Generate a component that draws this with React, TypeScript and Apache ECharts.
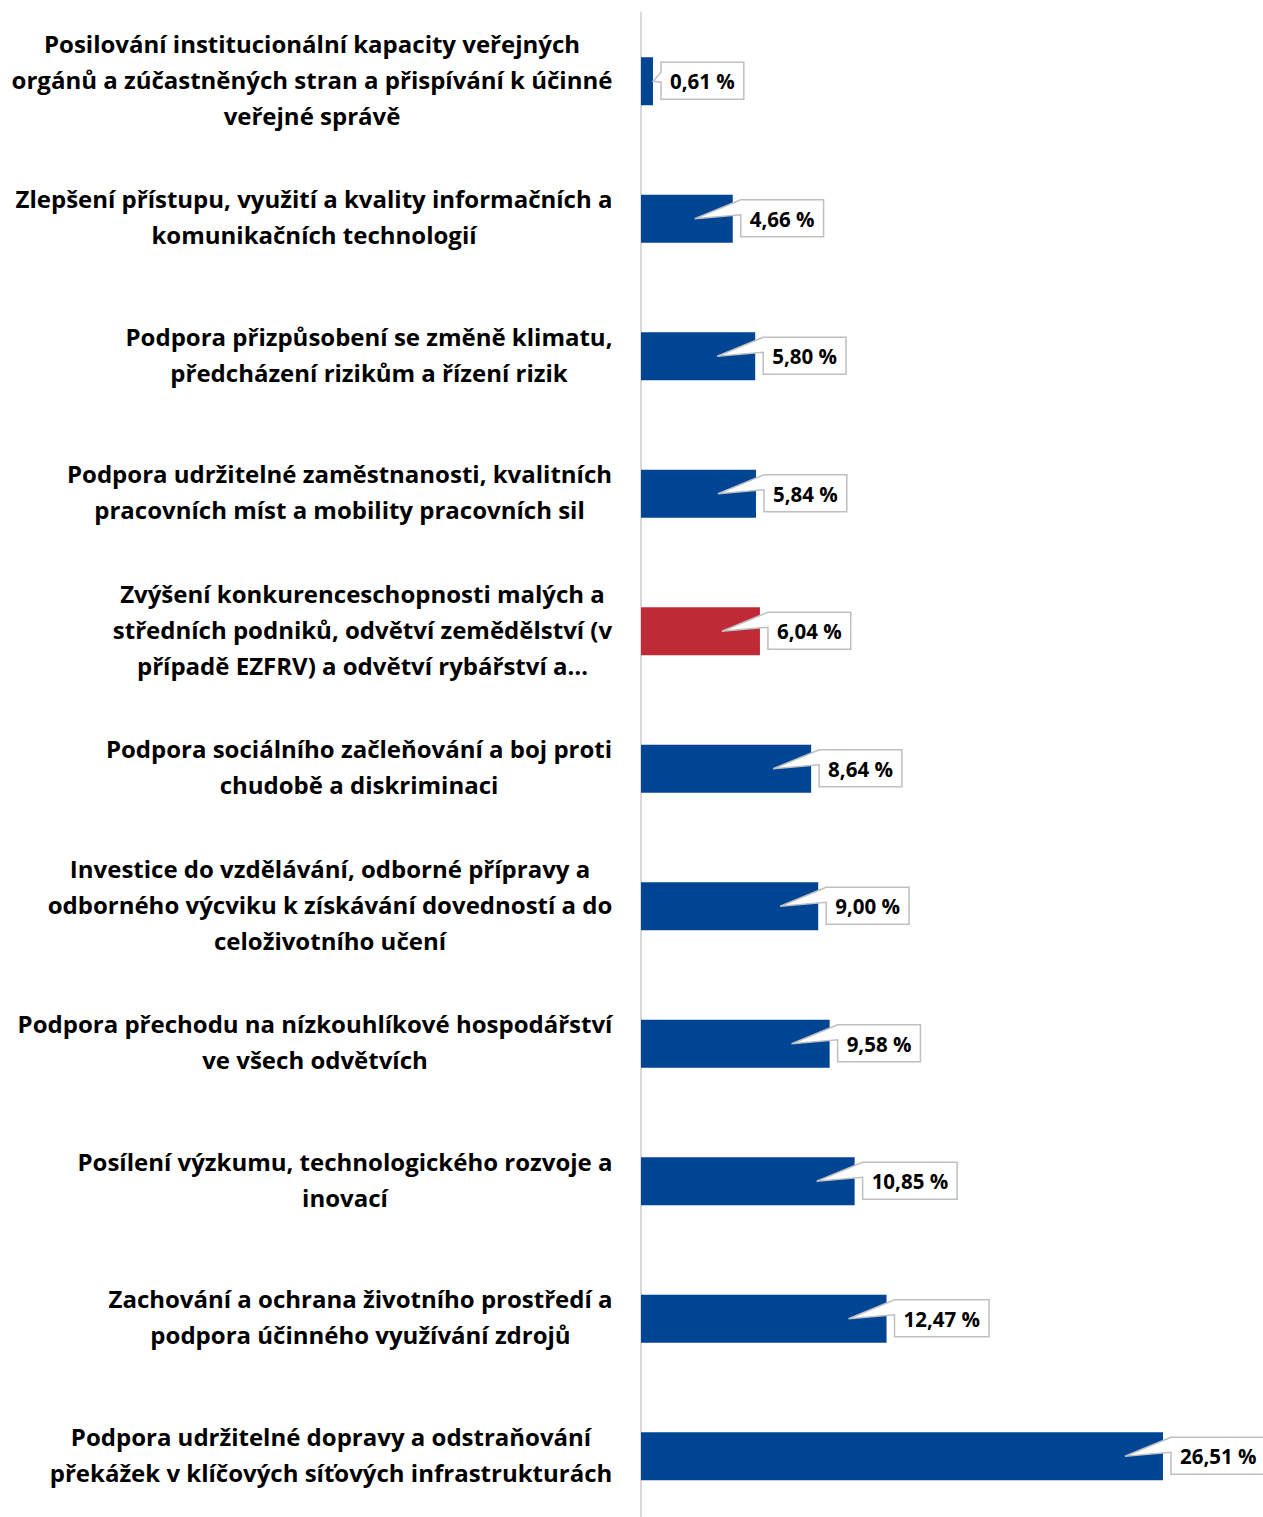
import React, { useEffect, useRef } from "react";
import * as echarts from "echarts";

const categories: string[] = [
  "Posilování institucionální kapacity veřejných\norgánů a zúčastněných stran a přispívání k účinné\nveřejné správě",
  "Zlepšení přístupu, využití a kvality informačních a\nkomunikačních technologií",
  "Podpora přizpůsobení se změně klimatu,\npředcházení rizikům a řízení rizik",
  "Podpora udržitelné zaměstnanosti, kvalitních\npracovních míst a mobility pracovních sil",
  "Zvýšení konkurenceschopnosti malých a\nstředních podniků, odvětví zemědělství (v\npřípadě EZFRV) a odvětví rybářství a…",
  "Podpora sociálního začleňování a boj proti\nchudobě a diskriminaci",
  "Investice do vzdělávání, odborné přípravy a\nodborného výcviku k získávání dovedností a do\nceloživotního učení",
  "Podpora přechodu na nízkouhlíkové hospodářství\nve všech odvětvích",
  "Posílení výzkumu, technologického rozvoje a\ninovací",
  "Zachování a ochrana životního prostředí a\npodpora účinného využívání zdrojů",
  "Podpora udržitelné dopravy a odstraňování\npřekážek v klíčových síťových infrastrukturách",
];
const values: number[] = [0.61, 4.66, 5.8, 5.84, 6.04, 8.64, 9.0, 9.58, 10.85, 12.47, 26.51];
const highlightIndex = 4;

const BLUE = "#004494";
const RED = "#BE2A36";
const CAT_FAMILY = '"Open Sans", "Liberation Sans", sans-serif';
const LBL_FAMILY = '"Open Sans", "Liberation Sans", sans-serif';
const CAT_SIZE = 24;
const LBL_SIZE = 20.5;

let ctx: CanvasRenderingContext2D | null = null;
function measure(text: string, font: string): number {
  if (!ctx) ctx = document.createElement("canvas").getContext("2d");
  ctx!.font = font;
  return ctx!.measureText(text).width;
}
const fmt = (v: number) => v.toFixed(2).replace(".", ",") + " %";

export default function App() {
  const ref = useRef<HTMLDivElement>(null);
  useEffect(() => {
    if (!ref.current) return;
    const chart = echarts.init(ref.current, null, { renderer: "svg" });
    const catFont = `bold ${CAT_SIZE}px ${CAT_FAMILY}`;
    const lblFont = `bold ${LBL_SIZE}px ${LBL_FAMILY}`;
    const rich: any = {};
    categories.forEach((c, i) => {
      const w = Math.max(...c.split("\n").map((l) => measure(l, catFont)));
      rich["l" + i] = {
        width: Math.ceil(w) + 1,
        align: "center",
        fontSize: CAT_SIZE,
        fontWeight: "bold",
        fontFamily: CAT_FAMILY,
        lineHeight: 36,
        color: "#000",
      };
    });
    chart.setOption({
      animation: false,
      grid: { left: 641, top: 12.5, width: 30 * 19.69, height: 1512.5, containLabel: false },
      xAxis: {
        type: "value",
        min: 0,
        max: 30,
        show: false,
        splitLine: { show: false },
      },
      yAxis: {
        type: "category",
        inverse: true,
        data: categories,
        axisLine: { show: true, lineStyle: { color: "#d9d9d9", width: 2 } },
        axisTick: { show: false },
        axisLabel: {
          margin: 28,
          align: "right",
          padding: [0, 0, 4, 0],
          formatter: (value: string, index: number) =>
            value
              .split("\n")
              .map((l) => `{l${index}|${l}}`)
              .join("\n"),
          rich,
        },
      },
      series: [
        {
          type: "bar",
          z: 2,
          barWidth: 48,
          data: values.map((v, i) => ({
            value: v,
            itemStyle: { color: i === highlightIndex ? RED : BLUE },
          })),
        },
        {
          type: "custom",
          z: 10,
          clip: false,
          data: values.map((v, i) => [v, i]),
          encode: { x: 0, y: 1 },
          renderItem: (params: any, api: any) => {
            const v = api.value(0);
            const idx = api.value(1);
            const end = api.coord([v, idx]);
            const start = api.coord([0, idx]);
            const text = fmt(v);
            const tw = measure(text, lblFont);
            const bx = end[0] + 8;
            const bw = tw + 18;
            const bh = 37;
            const cy = end[1];
            const top = cy - 19;
            const bottom = top + bh;
            const barLen = end[0] - start[0];
            let tipX: number, a1: number, a2: number;
            if (barLen > 50) {
              tipX = end[0] - 38;
              a1 = top;
              a2 = top + 15;
            } else {
              tipX = end[0];
              a1 = cy - 9;
              a2 = cy + 1;
            }
            const pts = [
              [tipX, cy],
              [bx, a1],
              [bx, top],
              [bx + bw, top],
              [bx + bw, bottom],
              [bx, bottom],
              [bx, a2],
            ];
            return {
              type: "group",
              children: [
                {
                  type: "polygon",
                  z2: 100,
                  shape: { points: pts },
                  style: { fill: "#ffffff", stroke: "#bfbfbf", lineWidth: 1.5 },
                },
                {
                  type: "text",
                  z2: 101,
                  style: {
                    x: bx + bw / 2,
                    y: top + bh / 2 + 0.5,
                    text,
                    align: "center",
                    verticalAlign: "middle",
                    fontSize: LBL_SIZE,
                    fontWeight: "bold",
                    fontFamily: LBL_FAMILY,
                    fill: "#000",
                  },
                },
              ],
            };
          },
        },
      ],
    });
    return () => chart.dispose();
  }, []);
  return (
    <div
      style={{
        position: "absolute",
        left: 0,
        top: 0,
        width: 1263,
        height: 1517,
        overflow: "hidden",
        background: "#fff",
      }}
    >
      <div ref={ref} style={{ width: 1263, height: 1530 }} />
    </div>
  );
}
